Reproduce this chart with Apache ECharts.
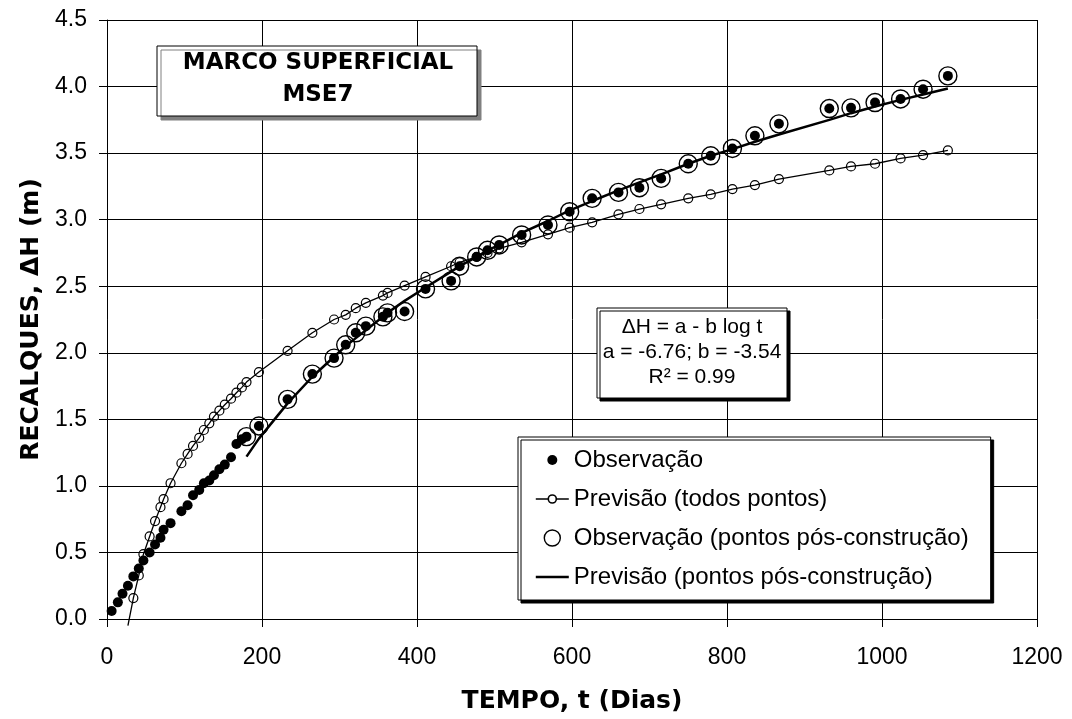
<!DOCTYPE html>
<html>
<head>
<meta charset="utf-8">
<script src="https://cdn.jsdelivr.net/npm/echarts@6/dist/echarts.min.js"></script>
<style>html,body{margin:0;padding:0;background:#fff}#c{width:1072px;height:719px}</style>
</head>
<body>
<div id="c"></div>
<script>
// Observations (all points): time (days) and settlement (m)
const obsT = [6,14,20,27,34,41,47,55,62,69,73,82,96,104,111,119,125,132,138,145,152,160,167,174,180,196,233,265,293,308,321,334,356,362,384,411,444,455,477,491,506,535,569,597,626,660,687,715,750,779,807,836,867,932,960,991,1024,1053,1085];
const obsH = [0.06,0.125,0.19,0.25,0.32,0.38,0.44,0.50,0.56,0.61,0.67,0.72,0.81,0.855,0.93,0.97,1.02,1.04,1.08,1.125,1.16,1.215,1.315,1.35,1.37,1.45,1.65,1.84,1.96,2.06,2.15,2.20,2.27,2.30,2.31,2.48,2.54,2.65,2.72,2.77,2.81,2.885,2.96,3.06,3.16,3.205,3.24,3.31,3.42,3.48,3.535,3.63,3.72,3.835,3.84,3.88,3.907,3.98,4.08];
// Prediction using all points
const prevAllT = [27,34,41,47,55,62,69,73,82,96,104,111,119,125,132,138,145,152,160,167,174,180,196,233,265,293,308,321,334,356,362,384,411,444,455,477,491,506,535,569,597,626,660,687,715,750,779,807,836,867,932,960,991,1024,1053,1085];
const prevAllH = [-0.05,0.157,0.327,0.487,0.62,0.736,0.84,0.90,1.02,1.17,1.24,1.30,1.36,1.42,1.47,1.52,1.565,1.61,1.655,1.70,1.74,1.78,1.855,2.015,2.15,2.25,2.285,2.335,2.375,2.43,2.45,2.505,2.57,2.65,2.68,2.72,2.75,2.785,2.83,2.89,2.94,2.98,3.04,3.08,3.115,3.16,3.19,3.23,3.26,3.305,3.37,3.40,3.42,3.46,3.485,3.52];
// Post-construction points and their prediction
const postStart = 180;
const postT = [180,196,233,265,293,308,321,334,356,362,384,411,444,455,477,491,506,535,569,597,626,660,687,715,750,779,807,836,867,932,960,991,1024,1053,1085];
const postFitH = [1.22,1.355,1.62,1.82,1.97,2.05,2.11,2.17,2.27,2.30,2.39,2.49,2.61,2.65,2.72,2.77,2.81,2.90,2.99,3.07,3.14,3.22,3.28,3.34,3.42,3.48,3.53,3.585,3.64,3.75,3.80,3.85,3.90,3.94,3.985];
const xTicks = {min: 0, max: 1200, interval: 200};
const yTicks = {min: 0, max: 4.5, interval: 0.5};
const names = ['Observação', 'Previsão (todos pontos)', 'Observação (pontos pós-construção)', 'Previsão (pontos pós-construção)'];

const obsData = obsT.map((t, i) => [t, obsH[i]]);
const postObsData = obsData.filter(d => d[0] >= postStart);
const prevAllData = prevAllT.map((t, i) => {
  const v = [t, prevAllH[i]];
  return prevAllH[i] < 0 ? {value: v, symbol: 'none'} : v;
});
const postFitData = postT.map((t, i) => [t, postFitH[i]]);

const REG = 'Liberation Sans';
const BOLD = 'DejaVu Sans';

// legend icons (33 x 17 boxes)
const iconDot = 'path://M0,0M33,17M11.5,8.5a5,5 0 1,0 10,0a5,5 0 1,0 -10,0Z';
const iconLineCircle = 'path://M0,0M33,17M0,8.5L12.5,8.5M20.5,8.5L33,8.5M12.5,8.5a4,4 0 1,0 8,0a4,4 0 1,0 -8,0Z';
const iconCircle = 'path://M0,0M33,17M8.5,8.5a8,8 0 1,0 16,0a8,8 0 1,0 -16,0Z';
const iconThick = 'path://M0,0M33,17M0,7.3L33,7.3L33,9.7L0,9.7Z';

const chart = echarts.init(document.getElementById('c'), null, {renderer: 'canvas'});
chart.setOption({
  backgroundColor: '#fff',
  animation: false,
  grid: {left: 107, right: 35, top: 20, bottom: 98, containLabel: false},
  xAxis: {
    type: 'value', min: xTicks.min, max: xTicks.max, interval: xTicks.interval,
    name: 'TEMPO, t (Dias)', nameLocation: 'middle', nameGap: 70,
    nameTextStyle: {fontFamily: BOLD, fontWeight: 'bold', fontSize: 25, color: '#000'},
    axisLine: {show: true, lineStyle: {color: '#000', width: 1}},
    axisTick: {show: true, inside: false, length: 8, lineStyle: {color: '#000'}},
    axisLabel: {fontFamily: REG, fontSize: 23, color: '#000', margin: 27, formatter: v => String(v)},
    splitLine: {show: true, lineStyle: {color: '#000', width: 1}}
  },
  yAxis: {
    type: 'value', min: yTicks.min, max: yTicks.max, interval: yTicks.interval,
    name: 'RECALQUES, ΔH (m)', nameLocation: 'middle', nameGap: 62,
    nameTextStyle: {fontFamily: BOLD, fontWeight: 'bold', fontSize: 25, color: '#000'},
    axisLine: {show: true, lineStyle: {color: '#000', width: 1}},
    axisTick: {show: true, inside: false, length: 8, lineStyle: {color: '#000'}},
    axisLabel: {fontFamily: REG, fontSize: 23, color: '#000', margin: 20, formatter: v => v.toFixed(1)},
    splitLine: {show: true, lineStyle: {color: '#000', width: 1}}
  },
  legend: {
    orient: 'vertical', left: 518, top: 437,
    data: [
      {name: names[0], icon: iconDot, itemStyle: {color: '#000', borderWidth: 0, opacity: 1}},
      {name: names[1], icon: iconLineCircle, itemStyle: {color: 'rgba(0,0,0,0)', borderColor: '#000', borderWidth: 1.6, opacity: 1}},
      {name: names[2], icon: iconCircle, itemStyle: {color: 'rgba(0,0,0,0)', borderColor: '#000', borderWidth: 1.4, opacity: 1}},
      {name: names[3], icon: iconThick, itemStyle: {color: '#000', borderWidth: 0, opacity: 1}}
    ],
    itemWidth: 33, itemHeight: 17, itemGap: 9,
    padding: [8, 22, 8, 17],
    backgroundColor: '#fff', borderColor: '#000', borderWidth: 1,
    shadowColor: '#000', shadowOffsetX: 3, shadowOffsetY: 3, shadowBlur: 0,
    textStyle: {fontFamily: REG, fontSize: 24, color: '#000', lineHeight: 30},
    selectedMode: false
  },
  series: [
    {
      name: names[0], type: 'scatter', data: obsData, symbol: 'circle', symbolSize: 10,
      itemStyle: {color: '#000', opacity: 1}, z: 5
    },
    {
      name: names[1], type: 'line', data: prevAllData, symbol: 'circle', symbolSize: 9,
      showAllSymbol: true, clip: false,
      lineStyle: {color: '#000', width: 1.3},
      itemStyle: {color: 'rgba(0,0,0,0)', borderColor: '#000', borderWidth: 1.2, opacity: 1}, z: 3
    },
    {
      name: names[2], type: 'scatter', data: postObsData, symbol: 'circle', symbolSize: 18,
      itemStyle: {color: 'rgba(0,0,0,0)', borderColor: '#000', borderWidth: 1.4, opacity: 1}, z: 4
    },
    {
      name: names[3], type: 'line', data: postFitData, symbol: 'none', showSymbol: false,
      lineStyle: {color: '#000', width: 2.5},
      itemStyle: {color: '#000'}, z: 4
    }
  ],
  graphic: [
    {type: 'rect', z: 100, shape: {x: 157, y: 46, width: 320, height: 70},
     style: {fill: '#fff', stroke: '#000', lineWidth: 1, shadowColor: '#808080', shadowOffsetX: 4, shadowOffsetY: 4, shadowBlur: 0}},
    {type: 'text', z: 101, x: 318, y: 63, style: {text: 'MARCO SUPERFICIAL', fontFamily: BOLD, fontWeight: 'bold', fontSize: 23, fill: '#000', align: 'center', verticalAlign: 'middle'}},
    {type: 'text', z: 101, x: 318, y: 95, style: {text: 'MSE7', fontFamily: BOLD, fontWeight: 'bold', fontSize: 23, fill: '#000', align: 'center', verticalAlign: 'middle'}},
    {type: 'rect', z: 100, shape: {x: 597, y: 308, width: 190, height: 90},
     style: {fill: '#fff', stroke: '#000', lineWidth: 1, shadowColor: '#000', shadowOffsetX: 3, shadowOffsetY: 3, shadowBlur: 0}},
    {type: 'text', z: 101, x: 692, y: 327, style: {text: 'ΔH = a - b log t', fontFamily: REG, fontSize: 21, fill: '#000', align: 'center', verticalAlign: 'middle'}},
    {type: 'text', z: 101, x: 692, y: 352, style: {text: 'a = -6.76; b = -3.54', fontFamily: REG, fontSize: 21, fill: '#000', align: 'center', verticalAlign: 'middle'}},
    {type: 'text', z: 101, x: 692, y: 377, style: {text: 'R² = 0.99', fontFamily: REG, fontSize: 21, fill: '#000', align: 'center', verticalAlign: 'middle'}}
  ]
});
</script>
</body>
</html>
